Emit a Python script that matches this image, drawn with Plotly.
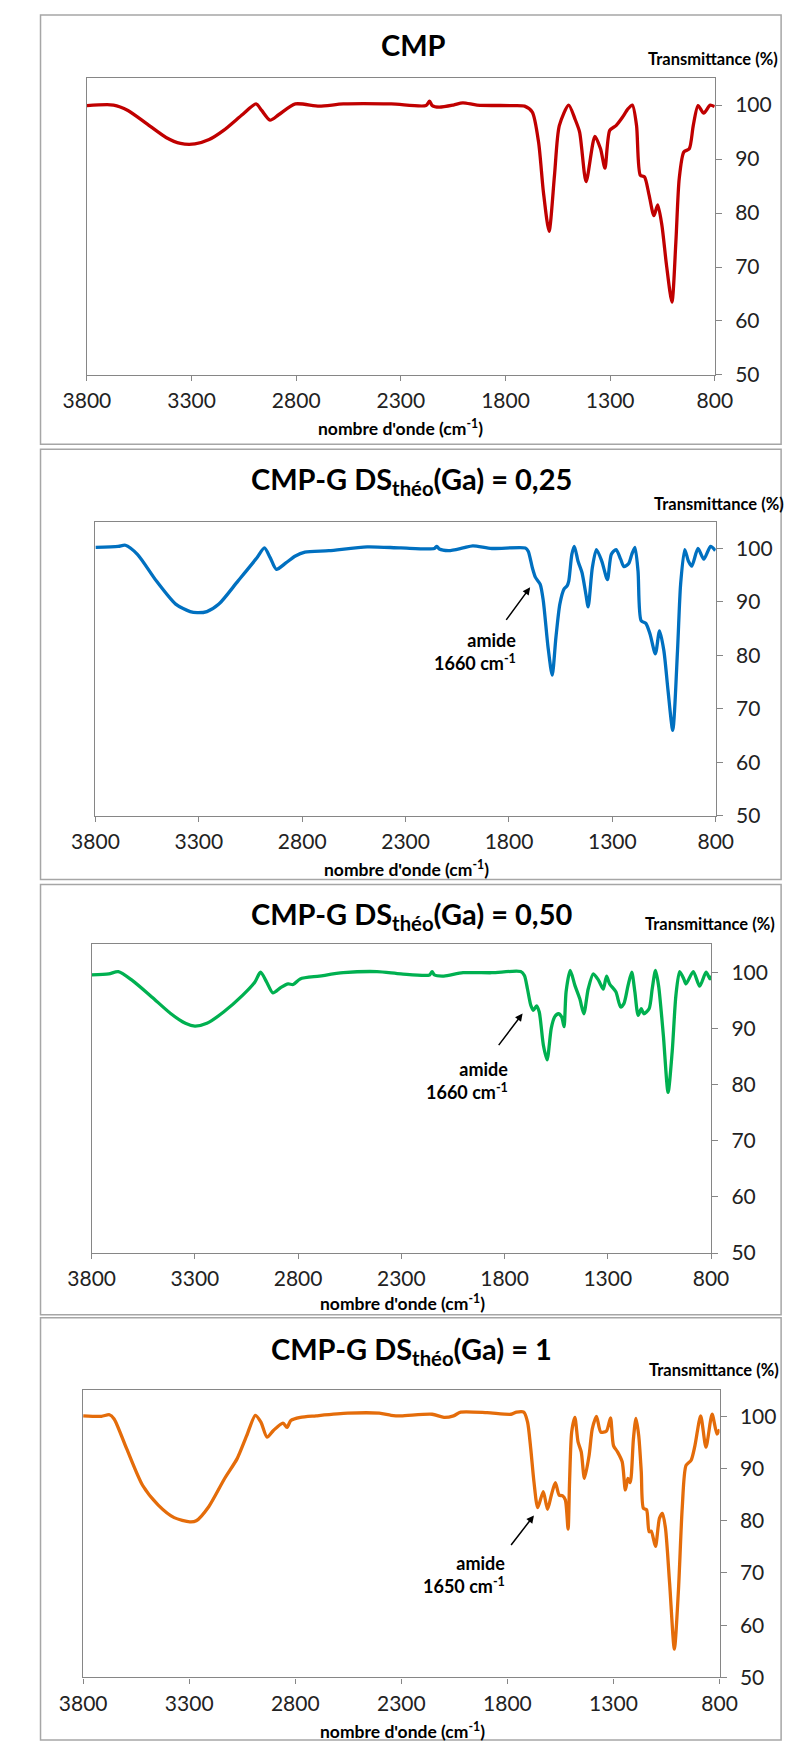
import plotly.graph_objects as go

W, H = 793, 1745

# ---- spectra (wavenumber cm-1, transmittance %) ----
cmp_wn = [3800, 3673, 3604, 3513, 3422, 3353, 3284, 3216, 3147, 3055, 2992, 2965, 2925, 2884, 2804,
          2690, 2575, 2346, 2180, 2163, 2150, 2117, 2049, 2004, 1936, 1774, 1709, 1672, 1642, 1619,
          1592, 1566, 1543, 1498, 1468, 1446, 1415, 1373, 1346, 1325, 1302, 1272, 1242, 1215, 1194,
          1174, 1156, 1136, 1114, 1091, 1073, 1053, 1031, 1005, 986, 970, 948, 922, 903, 880, 853, 822, 801]
cmp_t = [99.9, 100.0, 99.0, 96.5, 94.0, 92.9, 92.8, 93.6, 95.3, 98.3, 100.2, 99.0, 97.2, 98.2, 100.2,
         99.8, 100.2, 100.2, 99.9, 100.7, 99.9, 99.6, 100.0, 100.4, 100.0, 99.9, 99.8, 98.7, 93.1, 83.9,
         76.6, 87.0, 96.2, 100.0, 97.4, 95.0, 85.8, 94.2, 91.9, 88.3, 95.3, 96.2, 97.7, 99.3, 100.0,
         96.2, 87.0, 86.7, 83.3, 79.5, 81.5, 77.8, 70.4, 63.5, 74.7, 86.4, 91.3, 91.9, 96.2, 99.9, 98.5, 100.0, 99.7]

ds025_wn = [3800, 3690, 3655, 3597, 3505, 3412, 3342, 3308, 3261, 3203, 3111, 3018, 2983, 2955, 2925,
            2879, 2833, 2787, 2671, 2486, 2323, 2161, 2149, 2137, 2092, 2022, 1975, 1883, 1721, 1707,
            1687, 1672, 1649, 1634, 1611, 1591, 1573, 1554, 1534, 1519, 1511, 1496, 1484, 1466, 1447,
            1428, 1417, 1397, 1377, 1351, 1324, 1305, 1282, 1260, 1244, 1221, 1206, 1191, 1176, 1161,
            1138, 1118, 1092, 1072, 1051, 1031, 1008, 985, 970, 950, 932, 916, 886, 858, 825, 802]
ds025_t = [100.2, 100.4, 100.6, 98.9, 93.9, 89.6, 88.2, 88.0, 88.2, 89.6, 93.9, 98.3, 100.1, 98.3, 96.1,
           97.3, 98.6, 99.3, 99.6, 100.3, 100.1, 100.0, 100.4, 99.9, 99.6, 100.1, 100.5, 100.0, 100.1, 99.5,
           96.4, 94.6, 93.3, 90.2, 81.5, 76.3, 83.4, 89.6, 92.4, 93.0, 93.9, 98.9, 100.4, 97.6, 95.5,
           91.4, 89.1, 96.4, 99.8, 97.6, 94.2, 98.9, 99.8, 98.0, 96.6, 97.2, 98.9, 100.2, 95.8, 86.5,
           86.0, 84.0, 80.3, 84.6, 80.9, 73.5, 66.0, 80.9, 93.3, 99.8, 97.6, 96.7, 100.0, 98.0, 100.4, 99.6]

ds050_wn = [3800, 3717, 3671, 3602, 3509, 3416, 3346, 3300, 3242, 3161, 3068, 3010, 2982, 2952, 2922,
            2883, 2848, 2824, 2790, 2697, 2581, 2418, 2302, 2163, 2151, 2140, 2094, 2001, 1862, 1722,
            1704, 1689, 1673, 1661, 1645, 1632, 1612, 1594, 1574, 1558, 1539, 1523, 1512, 1502, 1482,
            1459, 1436, 1416, 1395, 1370, 1344, 1322, 1306, 1291, 1261, 1238, 1222, 1202, 1184, 1169,
            1153, 1138, 1126, 1100, 1085, 1069, 1054, 1031, 1008, 988, 970, 952, 932, 921, 886, 855,
            824, 805, 801]
ds050_t = [99.5, 99.7, 100.1, 98.5, 95.6, 92.6, 90.9, 90.4, 90.9, 92.9, 95.9, 98.2, 100.0, 98.2, 96.3,
           97.3, 97.9, 97.8, 98.8, 99.3, 99.9, 100.1, 99.7, 99.5, 100.1, 99.5, 99.3, 99.9, 99.9, 100.1,
           99.4, 97.0, 94.1, 93.2, 94.0, 92.9, 87.0, 84.4, 90.0, 92.0, 92.6, 92.0, 90.3, 96.5, 100.3,
           97.6, 95.3, 92.6, 97.0, 99.7, 98.5, 97.0, 99.3, 97.9, 96.5, 93.8, 94.4, 97.6, 100.0, 96.5,
           92.3, 93.5, 92.6, 93.5, 97.0, 100.3, 97.6, 88.8, 78.6, 85.9, 95.9, 100.1, 98.8, 97.9, 100.1, 97.5,
           100.0, 98.8, 99.4]

ds1_wn = [3800, 3714, 3676, 3654, 3595, 3520, 3446, 3371, 3297, 3267, 3208, 3133, 3074, 3029, 2988,
          2962, 2933, 2903, 2858, 2839, 2821, 2776, 2702, 2553, 2404, 2348, 2302, 2155, 2099, 2054,
          2020, 1896, 1783, 1757, 1723, 1705, 1690, 1675, 1657, 1631, 1611, 1593, 1574, 1556, 1541,
          1527, 1514, 1507, 1497, 1482, 1467, 1452, 1437, 1415, 1400, 1380, 1360, 1333, 1314, 1300,
          1281, 1259, 1244, 1232, 1221, 1206, 1194, 1181, 1169, 1159, 1144, 1132, 1122, 1102, 1083,
          1069, 1055, 1035, 1013, 994, 976, 958, 934, 916, 889, 864, 835, 812, 800]
ds1_t = [100.1, 100.0, 100.3, 99.5, 93.8, 86.8, 83.0, 80.6, 79.8, 80.0, 82.7, 88.1, 91.9, 96.3, 100.2,
         98.9, 96.0, 97.3, 98.7, 97.9, 99.2, 99.8, 100.1, 100.6, 100.6, 100.2, 100.1, 100.4, 99.8, 100.1,
         100.8, 100.7, 100.4, 100.8, 100.8, 98.9, 93.8, 87.5, 82.5, 85.6, 82.2, 84.9, 87.3, 84.9, 84.8,
         84.0, 78.4, 87.5, 97.0, 99.8, 95.1, 93.2, 88.1, 92.5, 97.6, 100.0, 97.0, 97.2, 99.7, 94.4,
         93.2, 91.3, 85.9, 88.1, 87.3, 95.7, 99.6, 96.3, 89.4, 82.4, 82.1, 77.9, 78.0, 75.1, 80.5,
         81.4, 78.6, 67.8, 55.4, 66.5, 82.4, 90.6, 91.6, 94.4, 100.1, 94.1, 100.4, 96.6, 97.5]

x_ticks = [3800, 3300, 2800, 2300, 1800, 1300, 800]
y_ticks = [50, 60, 70, 80, 90, 100]

titles = ["CMP",
          "CMP-G DS<sub>théo</sub>(Ga) = 0,25",
          "CMP-G DS<sub>théo</sub>(Ga) = 0,50",
          "CMP-G DS<sub>théo</sub>(Ga) = 1"]
amide_labels = [None, "amide<br>1660 cm<sup>-1</sup>", "amide<br>1660 cm<sup>-1</sup>", "amide<br>1650 cm<sup>-1</sup>"]
colors = ["#C00000", "#0070C0", "#00B050", "#E46C0A"]
series = [(cmp_wn, cmp_t), (ds025_wn, ds025_t), (ds050_wn, ds050_t), (ds1_wn, ds1_t)]

# panel geometry in pixels
panels = [
    dict(box=(7, 439), x=(58, 721), y50=369.3, y105=70.5, title=(403, 37), trans=(719, 51),
         xt=(389, 422), note=None),
    dict(box=(444, 877), x=(67, 722), y50=813, y105=517, title=(401, 476), trans=(725, 499),
         xt=(395, 866), note=(513, 648, 526, 583, -25, 34)),
    dict(box=(882, 1315), x=(63, 717), y50=1253, y105=942, title=(401, 913), trans=(716, 922),
         xt=(391, 1303), note=(505, 1079, 518, 1012, -25, 33)),
    dict(box=(1318, 1743), x=(54, 726), y50=1680, y105=1391, title=(401, 1351), trans=(720, 1371),
         xt=(391, 1733), note=(502, 1576, 530, 1517, -24, 31)),
]

FONT = "Lato, Open Sans, Liberation Sans, sans-serif"
AX = "#868686"


def px(x):
    return x / W


def py(y):
    return 1 - y / H


fig = go.Figure()
annotations = []
shapes = []

for i, p in enumerate(panels):
    n = "" if i == 0 else str(i + 1)
    wn, t = series[i]
    fig.add_trace(go.Scatter(
        x=wn, y=t, mode="lines", xaxis="x" + n, yaxis="y" + n,
        line=dict(color=colors[i], width=3.3, shape="spline", smoothing=0.7),
        showlegend=False, hoverinfo="skip"))

    fig.update_layout({
        "xaxis" + n: dict(domain=[px(p["x"][0]), px(p["x"][1])], anchor="y" + n,
                          range=[3800, 800], tickvals=x_ticks, ticks="outside", ticklen=5,
                          tickcolor=AX, showline=True, linecolor=AX, linewidth=1.3, mirror=True,
                          showgrid=False, zeroline=False, ticklabelstandoff=2,
                          tickfont=dict(family=FONT, size=21, color="#222")),
        "yaxis" + n: dict(domain=[py(p["y50"]), py(p["y105"])], anchor="x" + n, side="right",
                          range=[50, 105], tickvals=y_ticks, ticks="outside", ticklen=6,
                          tickcolor=AX, showline=True, linecolor=AX, linewidth=1.3, mirror=True,
                          showgrid=False, zeroline=False, ticklabelstandoff=9,
                          tickfont=dict(family=FONT, size=21, color="#222")),
    })

    shapes.append(dict(type="rect", xref="paper", yref="paper", x0=px(9), x1=px(791),
                       y0=py(p["box"][1]), y1=py(p["box"][0]),
                       line=dict(color="#A6A6A6", width=1.5)))

    annotations.append(dict(text="<b>%s</b>" % titles[i], xref="paper", yref="paper",
                            x=px(p["title"][0]), y=py(p["title"][1]), showarrow=False,
                            xanchor="center", yanchor="middle",
                            font=dict(family=FONT, size=29, color="black")))
    annotations.append(dict(text="<b>Transmittance (%)</b>", xref="paper", yref="paper",
                            x=px(p["trans"][0]), y=py(p["trans"][1]), showarrow=False,
                            xanchor="center", yanchor="middle",
                            font=dict(family=FONT, size=16.5, color="black")))
    annotations.append(dict(text="<b>nombre d'onde (cm<sup>-1</sup>)</b>", xref="paper", yref="paper",
                            x=px(p["xt"][0]), y=py(p["xt"][1]), showarrow=False,
                            xanchor="center", yanchor="middle",
                            font=dict(family=FONT, size=17.5, color="black")))
    if p["note"]:
        tx, ty, hx, hy, ax, ay = p["note"]
        annotations.append(dict(text="<b>%s</b>" % amide_labels[i], xref="paper", yref="paper",
                                x=px(tx), y=py(ty), showarrow=False, align="right",
                                xanchor="right", yanchor="middle",
                                font=dict(family=FONT, size=18, color="black")))
        annotations.append(dict(text="", xref="paper", yref="paper", x=px(hx), y=py(hy),
                                showarrow=True, ax=ax, ay=ay, arrowhead=2, arrowsize=1,
                                arrowwidth=1.5, arrowcolor="black"))

fig.update_layout(width=W, height=H, margin=dict(l=0, r=0, t=0, b=0),
                  paper_bgcolor="white", plot_bgcolor="white",
                  annotations=annotations, shapes=shapes)

fig.write_html("out.html")
